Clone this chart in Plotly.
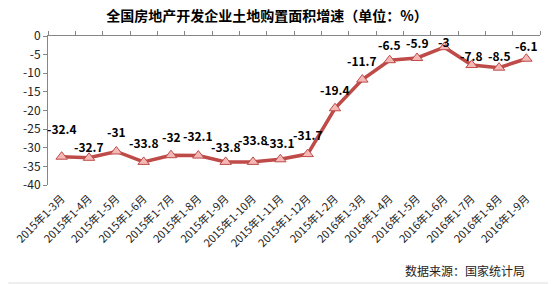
import plotly.graph_objects as go

categories = ["2015年1-3月", "2015年1-4月", "2015年1-5月", "2015年1-6月", "2015年1-7月",
              "2015年1-8月", "2015年1-9月", "2015年1-10月", "2015年1-11月", "2015年1-12月",
              "2015年1-2月", "2016年1-3月", "2016年1-4月", "2016年1-5月", "2016年1-6月",
              "2016年1-7月", "2016年1-8月", "2016年1-9月"]
values = [-32.4, -32.7, -31, -33.8, -32, -32.1, -33.8, -33.8, -33.1, -31.7,
          -19.4, -11.7, -6.5, -5.9, -3, -7.8, -8.5, -6.1]
y_ticks = [0, -5, -10, -15, -20, -25, -30, -35, -40]

# label vertical offsets in pixels (style only)
label_shift = [28, 11, 20, 19, 19, 20, 15, 22, 17, 20, 19, 19, 16, 15, 6, 10, 12, 13]

FONT = "Noto Sans CJK SC"
AXIS_COLOR = "#868686"

fig = go.Figure()
fig.add_trace(go.Scatter(
    x=categories, y=values, mode="lines+markers",
    line=dict(color="#BE4B48", width=3.5),
    marker=dict(symbol="triangle-up", size=10, color="#F4B9B7",
                line=dict(color="#BE4B48", width=1)),
    hoverinfo="skip", showlegend=False,
))
# dummy trace for top axis
fig.add_trace(go.Scatter(
    x=categories, y=values, xaxis="x2", mode="markers",
    marker=dict(opacity=0), hoverinfo="skip", showlegend=False,
))

for c, v, s in zip(categories, values, label_shift):
    fig.add_annotation(x=c, y=v, text=f"{v:g}", showarrow=False, yshift=s,
                       font=dict(family=FONT, size=12, color="black", weight="bold"))

fig.add_annotation(xref="paper", yref="paper", x=(527 - 44) / 496, y=(185 - 270) / 149,
                   xanchor="right", yanchor="middle", showarrow=False,
                   text="数据来源：国家统计局",
                   font=dict(family=FONT, size=12, color="#222222"))

fig.add_shape(type="line", xref="paper", yref="paper",
              x0=(4 - 44) / 496, x1=(548 - 44) / 496,
              y0=(185 - 283) / 149, y1=(185 - 283) / 149,
              line=dict(color="#DDDDDD", width=1))

fig.update_layout(
    width=558, height=284,
    margin=dict(l=44, r=18, t=36, b=99),
    paper_bgcolor="white", plot_bgcolor="white",
    title=dict(text="全国房地产开发企业土地购置面积增速（单位：%）",
               x=267 / 558, xanchor="center", y=1 - 16 / 284, yanchor="middle",
               font=dict(family=FONT, size=14, color="black", weight="bold")),
    xaxis=dict(type="category", range=[-0.5, 17.5], showline=False, ticks="",
               showgrid=False, zeroline=False, tickangle=-45, ticklabelstandoff=4,
               tickfont=dict(family=FONT, size=11, color="#222222")),
    xaxis2=dict(type="category", overlaying="x", anchor="y", side="top",
                range=[-0.5, 17.5], matches="x", showline=True, linecolor=AXIS_COLOR,
                linewidth=1, ticks="outside", tickson="boundaries", ticklen=4,
                tickcolor=AXIS_COLOR, showticklabels=False, showgrid=False,
                zeroline=False),
    yaxis=dict(range=[-40, 0], tickvals=y_ticks, ticktext=[str(t) for t in y_ticks],
               showline=True, linecolor=AXIS_COLOR, linewidth=1, ticks="outside",
               ticklen=4, tickcolor=AXIS_COLOR, showgrid=False, zeroline=False,
               tickfont=dict(family=FONT, size=12, color="#222222")),
)

fig.write_html("out.html")
